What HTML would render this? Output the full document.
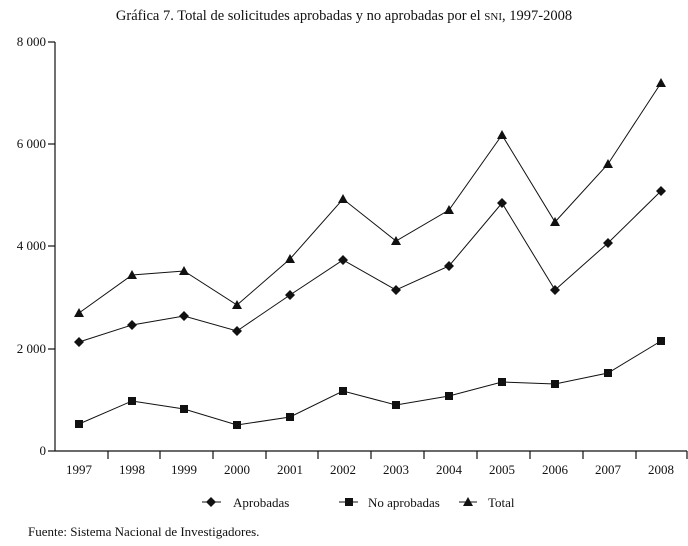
<!DOCTYPE html>
<html><head><meta charset="utf-8"><style>
body{margin:0;background:#fff;}
svg text{font-family:"Liberation Serif",serif;fill:#111;}
</style></head><body>
<svg width="688" height="541" viewBox="0 0 688 541" xmlns="http://www.w3.org/2000/svg">
<text x="344" y="20" font-size="14.5" text-anchor="middle">Gráfica 7. Total de solicitudes aprobadas y no aprobadas por el <tspan font-size="11">SNI</tspan>, 1997-2008</text>
<g stroke="#111" stroke-width="1.2" fill="none">
<line x1="55" y1="42" x2="55" y2="451"/>
<line x1="55" y1="451" x2="687" y2="451"/>
<line x1="48" y1="42" x2="55" y2="42"/><line x1="48" y1="349" x2="55" y2="349"/>
<line x1="48" y1="246" x2="55" y2="246"/><line x1="48" y1="144" x2="55" y2="144"/>
<line x1="48" y1="451" x2="55" y2="451"/>
<path d="M108 451v8M160 451v8M213 451v8M266 451v8M318 451v8M371 451v8M424 451v8M477 451v8M530 451v8M583 451v8M636 451v8M687 451v8"/>
</g>
<g font-size="13" text-anchor="end">
<text x="46" y="46">8 000</text><text x="46" y="148">6 000</text><text x="46" y="250">4 000</text><text x="46" y="353">2 000</text><text x="46" y="455">0</text>
</g>
<g font-size="13" text-anchor="middle">
<text x="79" y="474">1997</text><text x="132" y="474">1998</text><text x="184" y="474">1999</text><text x="237" y="474">2000</text><text x="290" y="474">2001</text><text x="343" y="474">2002</text><text x="396" y="474">2003</text><text x="449" y="474">2004</text><text x="502" y="474">2005</text><text x="555" y="474">2006</text><text x="608" y="474">2007</text><text x="661" y="474">2008</text>
</g>
<g stroke="#111" stroke-width="1" fill="none">
<polyline points="79,313 132,275 184,271 237,305 290,259 343,199 396,241 449,210 502,135 555,222 608,164 661,83"/>
<polyline points="79,342 132,325 184,316 237,331 290,295 343,260 396,290 449,266 502,203 555,290 608,243 661,191"/>
<polyline points="79,424 132,401 184,409 237,425 290,417 343,391 396,405 449,396 502,382 555,384 608,373 661,341"/>
</g>
<g fill="#111">
<path d="M79,308l5,9h-10zM132,270l5,9h-10zM184,266l5,9h-10zM237,300l5,9h-10zM290,254l5,9h-10zM343,194l5,9h-10zM396,236l5,9h-10zM449,205l5,9h-10zM502,130l5,9h-10zM555,217l5,9h-10zM608,159l5,9h-10zM661,78l5,9h-10z"/>
<path d="M79,337l5,5l-5,5l-5,-5zM132,320l5,5l-5,5l-5,-5zM184,311l5,5l-5,5l-5,-5zM237,326l5,5l-5,5l-5,-5zM290,290l5,5l-5,5l-5,-5zM343,255l5,5l-5,5l-5,-5zM396,285l5,5l-5,5l-5,-5zM449,261l5,5l-5,5l-5,-5zM502,198l5,5l-5,5l-5,-5zM555,285l5,5l-5,5l-5,-5zM608,238l5,5l-5,5l-5,-5zM661,186l5,5l-5,5l-5,-5z"/>
<path d="M75,420h8v8h-8zM128,397h8v8h-8zM180,405h8v8h-8zM233,421h8v8h-8zM286,413h8v8h-8zM339,387h8v8h-8zM392,401h8v8h-8zM445,392h8v8h-8zM498,378h8v8h-8zM551,380h8v8h-8zM604,369h8v8h-8zM657,337h8v8h-8z"/>
</g>
<g stroke="#111" stroke-width="1"><line x1="202" y1="502" x2="221" y2="502"/><line x1="339" y1="502" x2="358" y2="502"/><line x1="459" y1="502" x2="477" y2="502"/></g>
<g fill="#111"><path d="M211,497l5,5l-5,5l-5,-5z"/><path d="M345,498h8v8h-8z"/><path d="M468,497l5,9h-10z"/></g>
<g font-size="13"><text x="233" y="507">Aprobadas</text><text x="368" y="507">No aprobadas</text><text x="488" y="507">Total</text></g>
<text x="28" y="536" font-size="13">Fuente: Sistema Nacional de Investigadores.</text>
</svg>
</body></html>
